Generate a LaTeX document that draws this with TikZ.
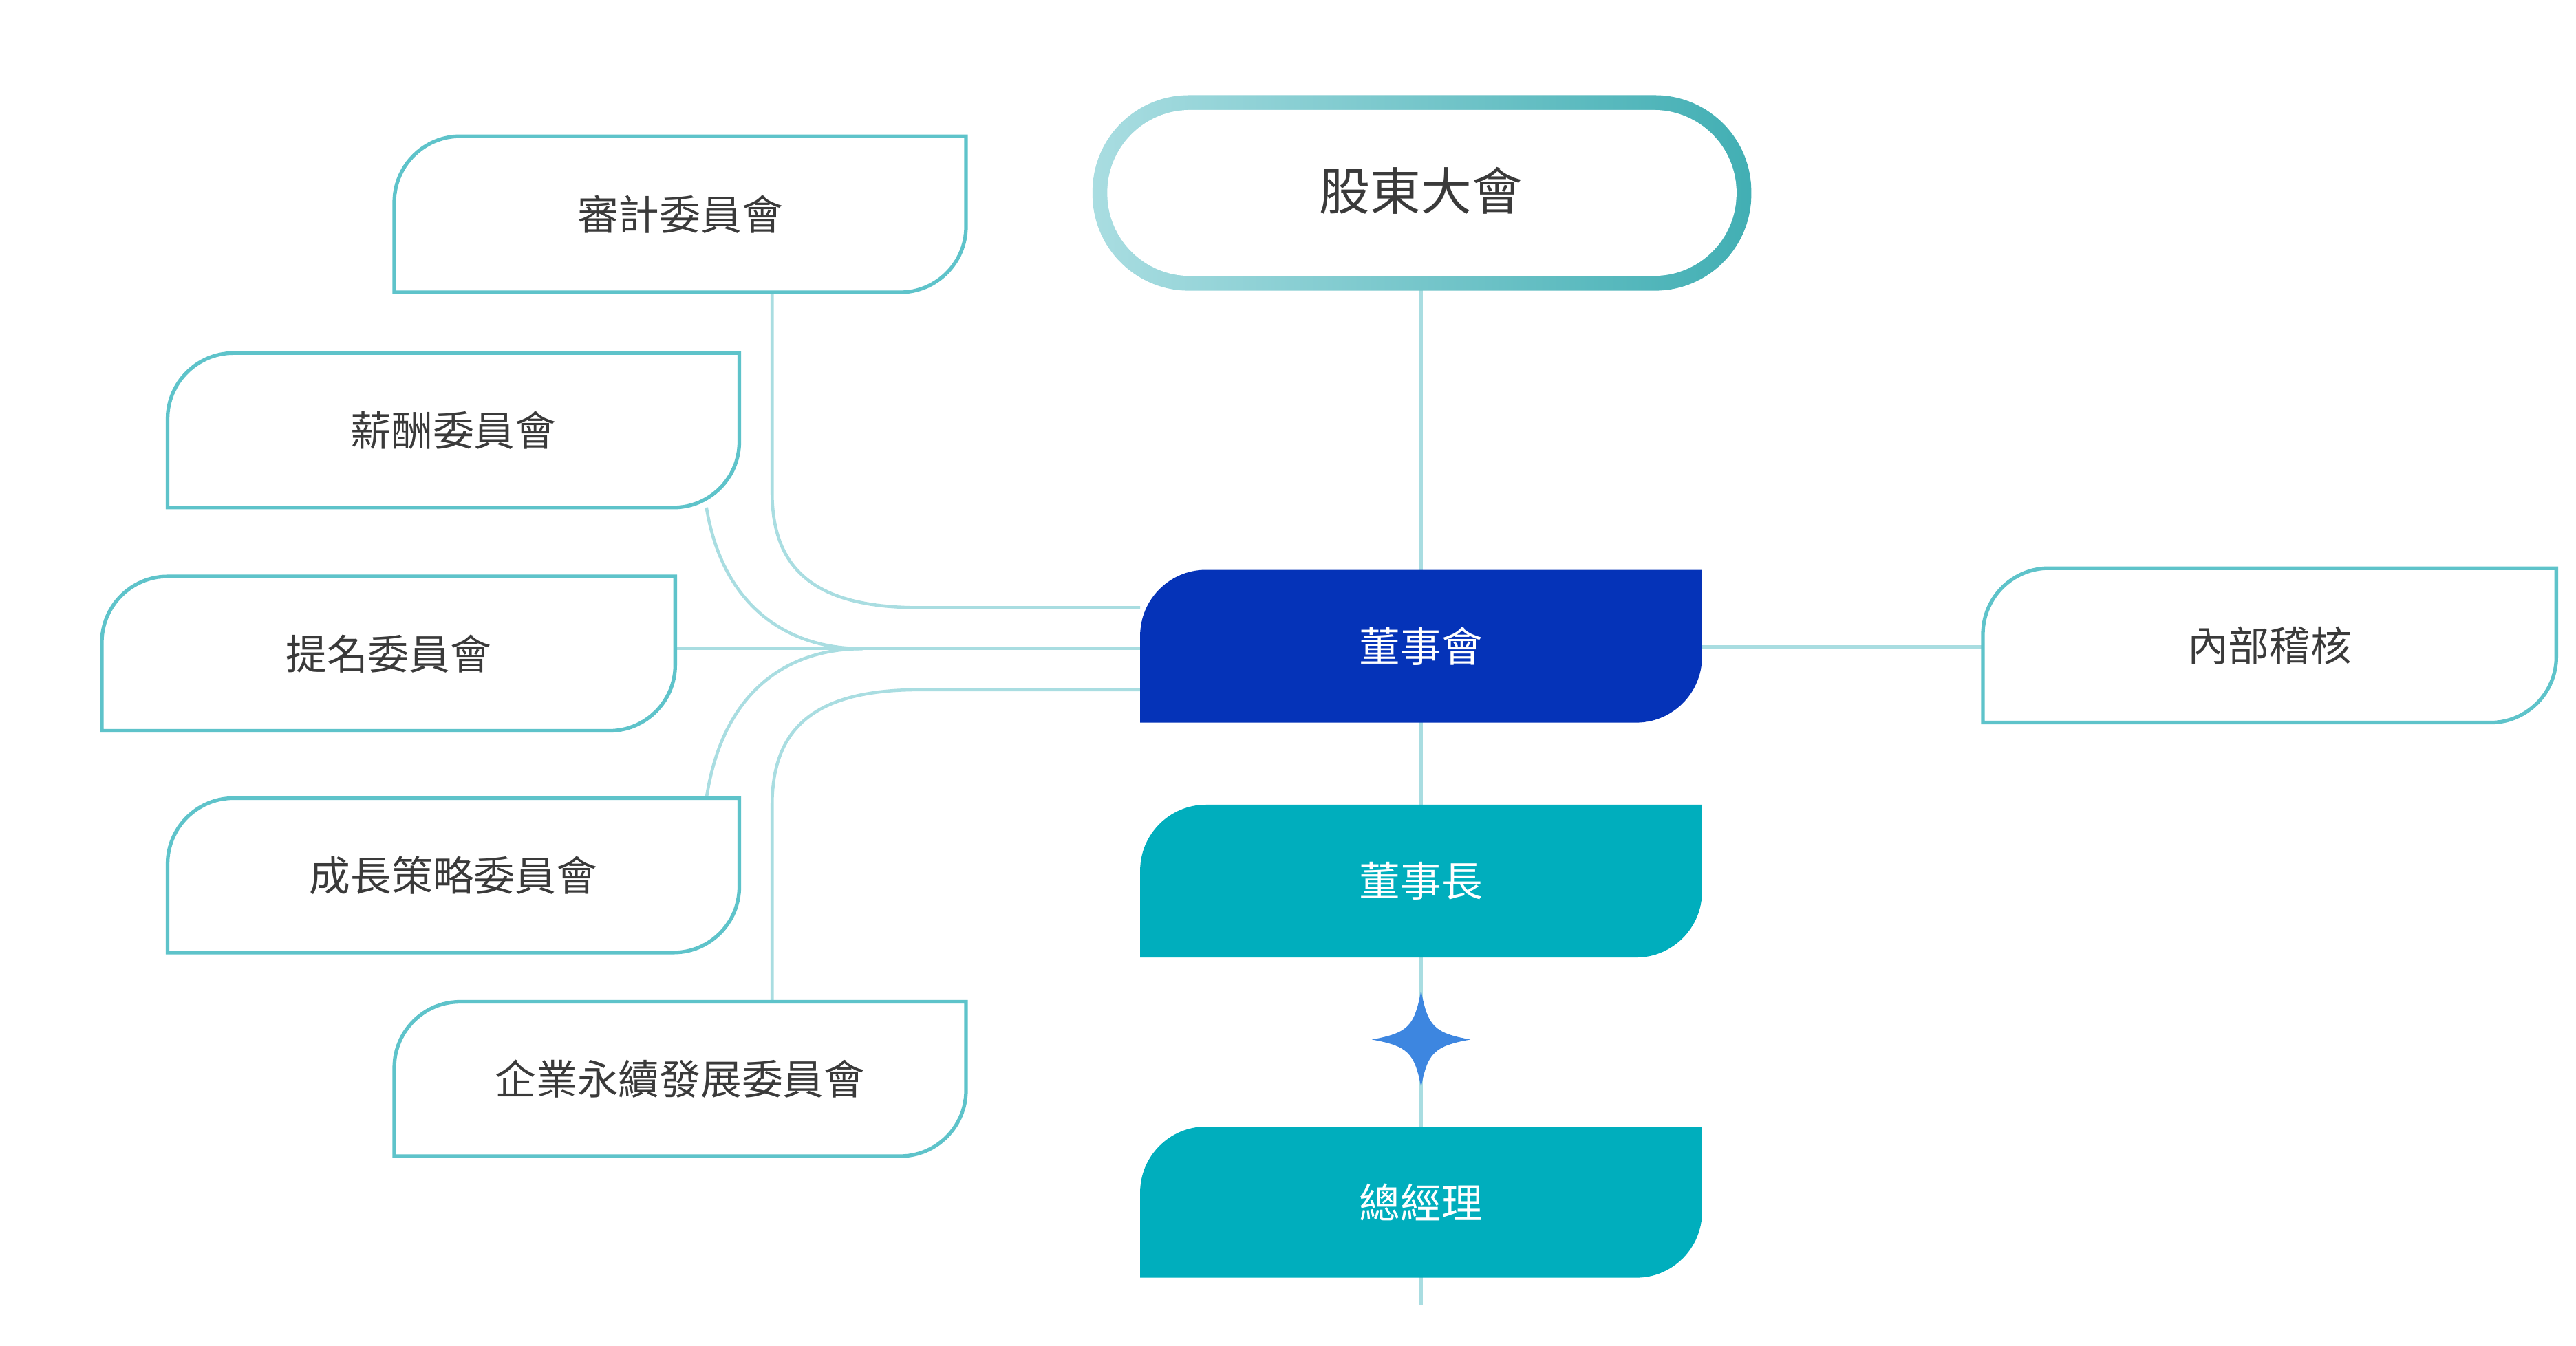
\documentclass[tikz,border=0pt]{standalone}
\usepackage{fontspec}
\newfontfamily\cjk{Noto Sans CJK TC}
\definecolor{lineC}{HTML}{A9DDE1}
\definecolor{edgeC}{HTML}{5EC3CA}
\definecolor{navy}{HTML}{0533B8}
\definecolor{tealF}{HTML}{00AEBD}
\definecolor{starC}{HTML}{3D86E0}
\definecolor{txt}{HTML}{3A3A3A}
\tikzset{
  conn/.style={draw=lineC, line width=1.3pt},
  outl/.style={draw=edgeC, line width=1.5pt, fill=white},
  lbl/.style={font=\cjk\fontsize{17}{20}\selectfont, text=txt},
  wlbl/.style={font=\cjk\fontsize{17}{20}\selectfont, text=white},
}
% \cbox{name}{x1}{y1}{x2}{y2}{path style}{label style}{text}
\newcommand\cbox[8]{%
  \path[#6] (#2,#5) -- (#2,#3+40) .. controls (#2,#3+18) and (#2+18,#3) .. (#2+40,#3)
    -- (#4,#3) -- (#4,#5-40) .. controls (#4,#5-18) and (#4-18,#5) .. (#4-40,#5) -- cycle;
  \node[#7] (#1) at ({(#2+#4)/2},{(#3+#5)/2}) {#8};
}
\begin{document}
\begin{tikzpicture}[x=0.02388cm,y=-0.02388cm]
\useasboundingbox (0,0) rectangle (1568,819.5);
% connectors
\coordinate (hub) at (525,395);
\coordinate (aud) at (470,178);
\coordinate (pay) at (430,309);
\coordinate (gro) at (430,486);
\coordinate (esg) at (470,610);
\coordinate (bot) at (865,795);
\draw[conn] (865,175) -- (bot);
\draw[conn] (aud) -- (470,300) .. controls (470,350) and (500,370) .. (560,370) -- (694,370);
\draw[conn] (pay) .. controls (440,370) and (480,395) .. (hub);
\draw[conn] (gro) .. controls (440,420) and (480,395) .. (hub);
\draw[conn] (411,395) -- (694,395);
\draw[conn] (esg) -- (470,490) .. controls (470,440) and (500,420) .. (560,420) -- (694,420);
\draw[conn] (1036,394) -- (1207,394);
% top box
\shade[left color=lineC, right color=edgeC!70!teal, rounded corners=1.4cm] (665,58) rectangle (1066,177);
\fill[white, rounded corners=1.2cm] (674,67) rectangle (1057,168);
\node[font=\cjk\fontsize{21}{24}\selectfont, text=txt] (gm) at (865,116) {股東大會};
% left boxes
\cbox{b1}{240}{83}{588}{178}{outl}{lbl}{審計委員會}
\cbox{b2}{102}{215}{450}{309}{outl}{lbl}{薪酬委員會}
\cbox{b3}{62}{351}{411}{445}{outl}{lbl}{提名委員會}
\cbox{b4}{102}{486}{450}{580}{outl}{lbl}{成長策略委員會}
\cbox{b5}{240}{610}{588}{704}{outl}{lbl}{企業永續發展委員會}
\cbox{ia}{1207}{346}{1556}{440}{outl}{lbl}{內部稽核}
% center column
\cbox{bd}{694}{347}{1036}{440}{fill=navy}{wlbl}{董事會}
\cbox{ch}{694}{490}{1036}{583}{fill=tealF}{wlbl}{董事長}
\cbox{gmgr}{694}{686}{1036}{778}{fill=tealF}{wlbl}{總經理}
% star
\fill[starC] (865,603) .. controls (869,625) and (873,629) .. (895,633)
  .. controls (873,637) and (869,641) .. (865,662)
  .. controls (861,641) and (857,637) .. (835,633)
  .. controls (857,629) and (861,625) .. (865,603) -- cycle;
\end{tikzpicture}
\end{document}
